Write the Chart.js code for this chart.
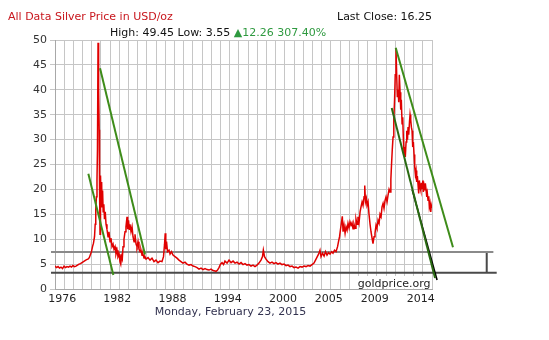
<!DOCTYPE html>
<html><head><meta charset="utf-8">
<script src="https://cdn.jsdelivr.net/npm/chart.js@4/dist/chart.umd.min.js"></script>
<style>html,body{margin:0;padding:0;background:#fff}#wrap{width:549px;height:340px;position:relative}</style>
</head><body><div id="wrap"><canvas id="c" width="549" height="340"></canvas></div>
<script>
// ---- data (x in fractional years, y in USD/oz) ----
const years = [
1975.50,1975.66,1975.82,1975.97,1976.13,1976.29,1976.45,1976.61,1976.76,1976.92,
1977.08,1977.24,1977.39,1977.55,1977.71,1977.87,1978.03,1978.18,1978.34,1978.50,
1978.66,1978.82,1978.97,1979.11,1979.24,1979.34,1979.45,1979.55,1979.66,1979.73,
1979.79,1979.86,1979.92,1979.97,1980.03,1980.07,1980.11,1980.15,1980.19,1980.24,
1980.27,1980.31,1980.36,1980.41,1980.45,1980.51,1980.57,1980.64,1980.71,1980.79,
1980.87,1980.97,1981.08,1981.18,1981.29,1981.39,1981.50,1981.61,1981.71,1981.82,
1981.92,1982.03,1982.13,1982.24,1982.34,1982.42,1982.50,1982.58,1982.66,1982.76,
1982.87,1982.97,1983.08,1983.15,1983.24,1983.32,1983.39,1983.50,1983.61,1983.71,
1983.82,1983.92,1984.03,1984.13,1984.24,1984.34,1984.45,1984.55,1984.66,1984.76,
1984.87,1984.97,1985.08,1985.29,1985.50,1985.71,1985.92,1986.13,1986.34,1986.55,
1986.76,1986.92,1987.03,1987.10,1987.16,1987.24,1987.34,1987.50,1987.61,1987.76,
1987.92,1988.13,1988.34,1988.55,1988.76,1988.97,1989.18,1989.39,1989.61,1989.82,
1990.03,1990.24,1990.45,1990.66,1990.87,1991.08,1991.29,1991.50,1991.71,1991.92,
1992.13,1992.34,1992.45,1992.61,1992.76,1992.92,1993.08,1993.24,1993.39,1993.61,
1993.82,1994.03,1994.24,1994.45,1994.66,1994.87,1995.08,1995.29,1995.50,1995.71,
1995.92,1996.13,1996.34,1996.55,1996.76,1996.97,1997.18,1997.34,1997.43,1997.55,
1997.71,1997.92,1998.13,1998.34,1998.55,1998.76,1998.97,1999.18,1999.39,1999.61,
1999.82,2000.03,2000.24,2000.45,2000.66,2000.87,2001.08,2001.29,2001.50,2001.71,
2001.92,2002.13,2002.34,2002.55,2002.76,2002.92,2003.08,2003.24,2003.39,2003.50,
2003.66,2003.82,2003.97,2004.13,2004.29,2004.45,2004.61,2004.76,2004.92,2005.08,
2005.24,2005.34,2005.45,2005.55,2005.66,2005.74,2005.82,2005.92,2006.03,2006.13,
2006.24,2006.34,2006.45,2006.55,2006.66,2006.76,2006.87,2006.97,2007.08,2007.18,
2007.29,2007.39,2007.50,2007.61,2007.71,2007.82,2007.92,2008.03,2008.10,2008.18,
2008.27,2008.34,2008.45,2008.55,2008.66,2008.76,2008.87,2008.97,2009.08,2009.18,
2009.29,2009.39,2009.50,2009.61,2009.71,2009.82,2009.92,2010.03,2010.13,2010.24,
2010.34,2010.45,2010.55,2010.66,2010.76,2010.85,2010.92,2011.00,2011.08,2011.16,
2011.24,2011.31,2011.39,2011.47,2011.53,2011.61,2011.68,2011.74,2011.82,2011.89,
2011.95,2012.03,2012.10,2012.16,2012.24,2012.31,2012.37,2012.45,2012.52,2012.60,
2012.66,2012.73,2012.81,2012.87,2012.94,2013.01,2013.08,2013.15,2013.22,2013.29,
2013.36,2013.43,2013.50,2013.57,2013.64,2013.71,2013.78,2013.85,2013.92,2014.00,
2014.06,2014.13,2014.21,2014.27,2014.34,2014.42,2014.48,2014.55,2014.63,2014.69,
2014.76,2014.84,2014.90,2014.97,2015.05,2015.11,2015.18
];
const prices = [
4.6,4.3,4.5,4.2,4.4,4.1,4.6,4.3,4.5,4.4,
4.6,4.4,4.7,4.5,4.6,4.8,5.0,5.1,5.3,5.5,
5.7,5.9,6.0,6.3,7.0,7.5,8.5,9.2,10.5,13,
16,18.5,22,28,49.45,36,40,32,20,11,
14,22.8,17,21.5,16.5,19.8,15.5,17,14,15.5,
13,12,10.5,11.5,9.5,10.2,8.5,9,8,8.5,
7,7.8,6.5,7,5.5,5.0,6.5,6,8.5,10,
11.5,12.5,14.5,12,13.8,12,13,11.5,12.5,10.5,
9.5,11,9,8.5,9.5,8,7.5,7.8,6.8,7,
6.2,6.5,6.0,6.3,5.8,6.2,5.5,5.8,5.3,5.6,
5.5,6.5,9,11.2,8,9.5,7.5,7.8,7,7.5,
6.8,6.5,6.2,5.8,5.5,5.2,5.4,5.0,4.8,4.9,
4.6,4.5,4.3,4.0,4.2,3.9,4.1,3.9,3.8,4.0,
3.7,3.6,3.55,3.8,4.3,5.0,5.3,4.9,5.6,5.2,
5.8,5.3,5.6,5.2,5.4,5.0,5.3,4.9,5.1,4.8,
4.9,4.6,4.8,4.5,4.8,5.2,5.8,6.5,7.8,6.5,
6.0,5.5,5.2,5.4,5.1,5.3,5.0,5.2,4.9,5.0,
4.7,4.8,4.5,4.6,4.3,4.4,4.2,4.5,4.4,4.6,
4.5,4.7,4.6,4.9,5.2,5.8,6.4,7.0,7.8,6.5,
7.2,6.6,7.5,6.8,7.3,7.0,7.5,7.2,7.8,7.5,
8.5,9.5,10.5,12,13.5,14.6,11.5,12.8,11.2,12.5,
11.8,13.2,12.3,13.5,12.8,13.3,12.1,13,12.2,14,
13,14.5,13.3,15.5,16.5,17.5,16.8,18.5,20.8,17.5,
18.2,16.8,17.5,15,13,11.5,10.2,9.1,10.5,11.2,
12.8,12.2,13.8,13.2,15,14.5,16.5,17.2,16.2,17.8,
18.5,17.5,18.8,20,19.5,22,25,28,30.5,34,
38,43,48.4,42.5,38.5,40,37.5,43,39.5,36,
38,33.2,34.5,30.5,27,28.5,26.5,29.5,31.8,30,
32.5,31,33.5,35,34,32.5,31.8,28.5,29.5,27,
24.5,23,23.8,21.5,22.7,21,19.2,21.8,20.5,19.8,
21.3,20.2,21.8,19.5,20.8,19.8,21.2,20,18.5,19.2,
17.8,18.6,16.5,17.2,15.5,16.8,16.25
];

// axes
const xRange = [1975.5, 2015.18];
const gridIntervals = 41;
const xTickLabels = ['1976','1982','1988','1994','2000','2005','2009','2014'];
const xTickSlots = [1,7,13,19,25,30,35,40];
const yRange = [0, 50];
const yStep = 5;

// support levels (horizontal) and marker
const upperLevel = 7.45;
const lowerLevel = 3.25;
const upperLevelX = [1975.08, 2021.64];
const lowerLevelX = [1975.08, 2021.99];
const markerX = 2020.94;

// trend lines
const trend1X = [1979.01, 1981.64], trend1Y = [23.14, 2.8];
const trend2X = [1980.24, 1984.97], trend2Y = [44.34, 6.94];
const trend3X = [2010.94, 2015.50], trend3Y = [36.34, 2.2];
const trend3bX = [2013.10, 2015.71], trend3bY = [19.9, 1.8];
const trend4X = [2011.36, 2017.39], trend4Y = [48.46, 8.4];

// texts
const titleText = 'All Data Silver Price in USD/oz';
const lastCloseText = 'Last Close: 16.25';
const highLowText = 'High: 49.45 Low: 3.55 ';
const changeText = '\u25B212.26 307.40%';
const dateText = 'Monday, February 23, 2015';
const watermark = 'goldprice.org';

const pts = (xs, ys) => xs.map((x, i) => ({x, y: ys[i]}));
const FONT = '"DejaVu Sans", Verdana, sans-serif';

const lineDs = (data, color, width, order) => ({
  data, borderColor: color, borderWidth: width, pointRadius: 0,
  tension: 0, clip: false, order, fill: false
});

const textPlugin = {
  id: 'texts',
  beforeDatasetsDraw(chart) {
    const ctx = chart.ctx, a = chart.chartArea;
    ctx.save();
    ctx.font = '11px ' + FONT;
    const w = ctx.measureText(watermark).width;
    ctx.fillStyle = '#fff';
    ctx.fillRect(a.right - w - 4, a.bottom - 13, w + 3.5, 12.5);
    ctx.fillStyle = '#222';
    ctx.textAlign = 'right';
    ctx.textBaseline = 'alphabetic';
    ctx.fillText(watermark, a.right - 1.5, a.bottom - 2.5);
    ctx.restore();
  },
  afterDraw(chart) {
    const ctx = chart.ctx;
    ctx.save();
    ctx.font = '11px ' + FONT;
    ctx.textBaseline = 'middle';
    ctx.textAlign = 'left';
    ctx.fillStyle = '#c8161d';
    ctx.fillText(titleText, 8, 17);
    ctx.fillStyle = '#111';
    ctx.fillText(lastCloseText, 337, 17);
    ctx.fillText(highLowText, 110, 33);
    const w = ctx.measureText(highLowText).width;
    ctx.fillStyle = '#2f9a40';
    ctx.fillText(changeText, 110 + w, 33);
    ctx.fillStyle = '#333350';
    ctx.textAlign = 'center';
    ctx.fillText(dateText, 230.5, 312);
    ctx.restore();
  }
};

new Chart(document.getElementById('c'), {
  type: 'line',
  data: {
    datasets: [
      lineDs(pts(trend1X, trend1Y), '#3e8c1a', 2, 0),
      lineDs(pts(trend2X, trend2Y), '#3e8c1a', 2, 0),
      lineDs(pts(trend4X, trend4Y), '#3e8c1a', 2, 0),
      lineDs(pts(trend3bX, trend3bY), '#000000', 1.6, 1),
      lineDs(pts(trend3X, trend3Y), '#2a6a12', 2, 0),
      Object.assign(lineDs(pts(years, prices), '#e00000', 1.5, 2), {clip: undefined}),
      lineDs(pts(upperLevelX, [upperLevel, upperLevel]), '#8a8a8a', 2, 3),
      lineDs(pts(lowerLevelX, [lowerLevel, lowerLevel]), '#4a4a4a', 2, 3),
      lineDs(pts([markerX, markerX], [upperLevel, lowerLevel]), '#4a4a4a', 2, 3)
    ]
  },
  options: {
    responsive: false,
    animation: false,
    parsing: false,
    normalized: true,
    layout: {padding: {left: 0, top: 40, right: 117, bottom: 0}},
    plugins: {legend: {display: false}, tooltip: {enabled: false}, title: {display: false}},
    scales: {
      x: {
        type: 'linear',
        min: xRange[0], max: xRange[1],
        afterBuildTicks(axis) {
          const t = [];
          for (let i = 0; i <= gridIntervals; i++) t.push({value: xRange[0] + i * (xRange[1] - xRange[0]) / gridIntervals});
          axis.ticks = t;
        },
        afterFit(scale) { scale.height = 51; },
        grid: {color: '#c6c6c6', lineWidth: 1, drawTicks: false},
        border: {display: true, color: '#a8a8a8'},
        ticks: {
          autoSkip: false, maxRotation: 0, minRotation: 0, padding: 4, labelOffset: -2,
          color: '#222', font: {family: FONT, size: 11},
          callback: (v, i) => { const k = xTickSlots.indexOf(i); return k >= 0 ? xTickLabels[k] : ''; }
        }
      },
      y: {
        min: yRange[0], max: yRange[1],
        afterFit(scale) { scale.width = 55; },
        grid: {color: '#c6c6c6', lineWidth: 1, drawTicks: true, tickLength: 5},
        border: {display: true, color: '#a8a8a8'},
        ticks: {stepSize: yStep, padding: 3, color: '#333', font: {family: FONT, size: 11}}
      }
    }
  },
  plugins: [textPlugin]
});
</script>
</body></html>
